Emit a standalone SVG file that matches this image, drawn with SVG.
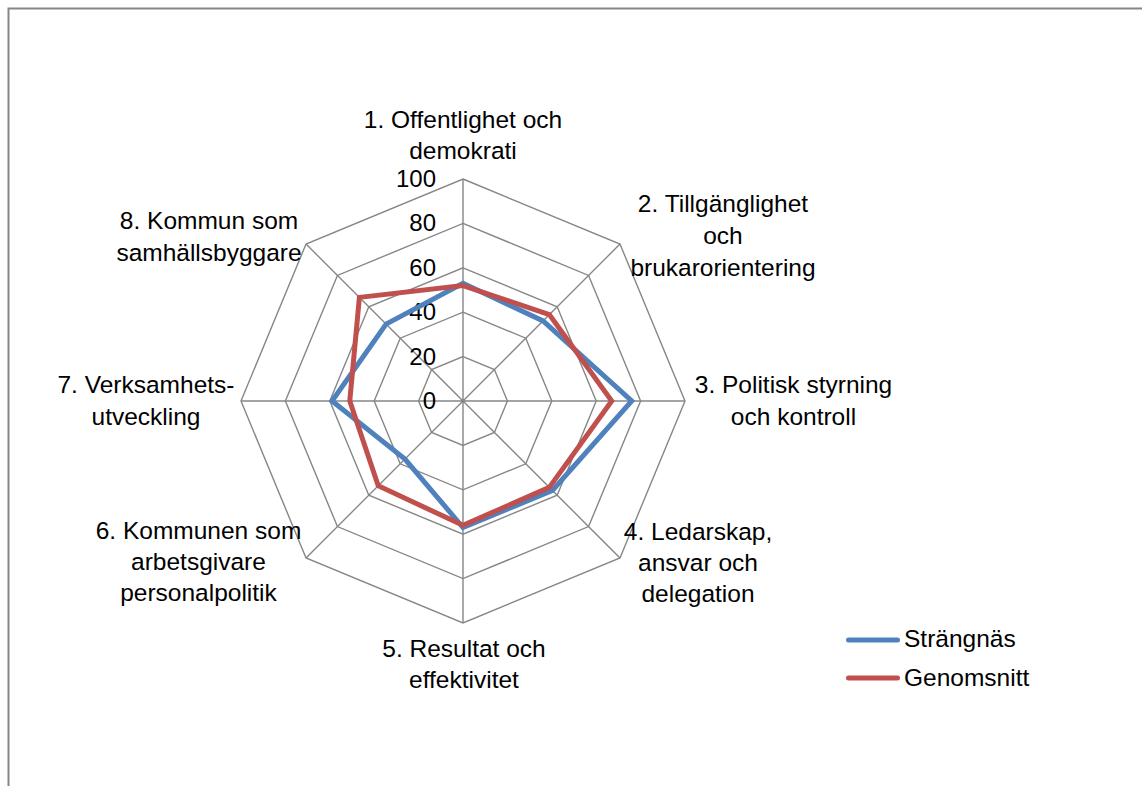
<svg xmlns="http://www.w3.org/2000/svg" width="1142" height="786" viewBox="0 0 1142 786">
<style>
  text { font-family: "Liberation Sans", Arial, sans-serif; font-size: 24.5px; fill: #000; }
  .lbl { text-anchor: middle; }
  .tick { text-anchor: end; font-size: 24px; }
  .grid { fill: none; stroke: #868686; stroke-width: 1.4; }
  .series { fill: none; stroke-width: 5; stroke-linejoin: miter; }
  .blue { stroke: #4F81BD; }
  .red { stroke: #C0504D; }
  .frame { fill: none; stroke: #868686; stroke-width: 2; }
</style>
<rect x="0" y="0" width="1142" height="786" fill="#fff"/>
<path class="frame" d="M8.5,786 V8.5 H1142"/>

<g id="grid">
  <polygon class="grid" points="463,356.6 494.4,369.6 507.4,401 494.4,432.4 463,445.4 431.6,432.4 418.6,401 431.6,369.6"/>
  <polygon class="grid" points="463,312.2 525.79,338.21 551.8,401 525.79,463.79 463,489.8 400.21,463.79 374.2,401 400.21,338.21"/>
  <polygon class="grid" points="463,267.8 557.19,306.81 596.2,401 557.19,495.19 463,534.2 368.81,495.19 329.8,401 368.81,306.81"/>
  <polygon class="grid" points="463,223.4 588.58,275.42 640.6,401 588.58,526.58 463,578.6 337.42,526.58 285.4,401 337.42,275.42"/>
  <polygon class="grid" points="463,179 619.98,244.02 685,401 619.98,557.98 463,623 306.02,557.98 241,401 306.02,244.02"/>
  <path class="grid" d="M463,401 L463,179 M463,401 L619.98,244.02 M463,401 L685,401 M463,401 L619.98,557.98 M463,401 L463,623 M463,401 L306.02,557.98 M463,401 L241,401 M463,401 L306.02,244.02"/>
</g>

<g id="ticks">
  <text class="tick" x="436" y="409">0</text>
  <text class="tick" x="436" y="364.6">20</text>
  <text class="tick" x="436" y="320.2">40</text>
  <text class="tick" x="436" y="275.8">60</text>
  <text class="tick" x="436" y="231.4">80</text>
  <text class="tick" x="436" y="187">100</text>
</g>

<g id="connectors">
  <polygon id="series-strangnas" class="series blue" points="463,283.34 543.06,320.94 631.72,401 552.48,490.48 463,527.54 404.92,459.08 332.02,401 386.08,324.08"/>
  <polygon id="series-genomsnitt" class="series red" points="463,285.56 549.34,314.66 611.74,401 549.34,487.34 463,525.32 378.23,485.77 349.78,401 359.39,297.39"/>
</g>

<g id="axis1"><text class="lbl" x="463" y="128">1. Offentlighet och</text><text class="lbl" x="463" y="159">demokrati</text></g>
<g id="axis2"><text class="lbl" x="723" y="212">2. Tillgänglighet</text><text class="lbl" x="723" y="244">och</text><text class="lbl" x="723" y="276">brukarorientering</text></g>
<g id="axis3"><text class="lbl" x="793.5" y="393">3. Politisk styrning</text><text class="lbl" x="793.5" y="425">och kontroll</text></g>
<g id="axis4"><text class="lbl" x="698" y="540">4. Ledarskap,</text><text class="lbl" x="698" y="571">ansvar och</text><text class="lbl" x="698" y="602">delegation</text></g>
<g id="axis5"><text class="lbl" x="464" y="657">5. Resultat och</text><text class="lbl" x="464" y="688">effektivitet</text></g>
<g id="axis6"><text class="lbl" x="198.5" y="539">6. Kommunen som</text><text class="lbl" x="198.5" y="570">arbetsgivare</text><text class="lbl" x="198.5" y="601">personalpolitik</text></g>
<g id="axis7"><text class="lbl" x="146" y="393">7. Verksamhets-</text><text class="lbl" x="146" y="425">utveckling</text></g>
<g id="axis8"><text class="lbl" x="209" y="229">8. Kommun som</text><text class="lbl" x="209" y="261">samhällsbyggare</text></g>

<g id="legend">
  <line x1="848.5" y1="640" x2="897.5" y2="640" stroke="#4F81BD" stroke-width="5" stroke-linecap="round"/>
  <text x="904" y="647">Strängnäs</text>
  <line x1="848.5" y1="678" x2="897.5" y2="678" stroke="#C0504D" stroke-width="5" stroke-linecap="round"/>
  <text x="904" y="686">Genomsnitt</text>
</g>
</svg>
